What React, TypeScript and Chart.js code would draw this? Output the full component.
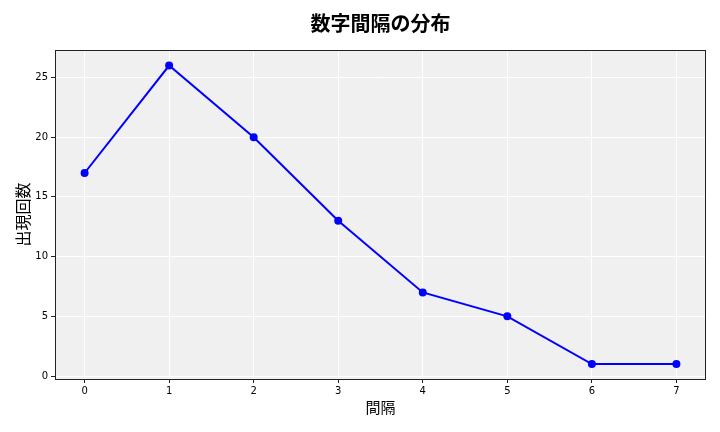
import React, {useEffect, useRef} from "react";
import {Chart, registerables} from "chart.js";

Chart.register(...registerables);

const intervals: number[] = [0, 1, 2, 3, 4, 5, 6, 7];
const counts: number[] = [17, 26, 20, 13, 7, 5, 1, 1];
const xTicks: number[] = [0, 1, 2, 3, 4, 5, 6, 7];
const yTicks: number[] = [0, 5, 10, 15, 20, 25];
const chartTitle = "数字間隔の分布";

const CJK = '"Noto Sans CJK JP", "Noto Sans", sans-serif';
const TICK_FONT = '"DejaVu Sans", sans-serif';

// axes background, frame and a title centred over the axes (like matplotlib)
const plotFrame = {
    id: "plotFrame",
    beforeDraw(chart: Chart) {
        const {ctx, chartArea} = chart;
        ctx.save();
        ctx.fillStyle = "#f0f0f0";
        ctx.fillRect(chartArea.left, chartArea.top, chartArea.right - chartArea.left, chartArea.bottom - chartArea.top);
        ctx.restore();
    },
    afterDraw(chart: Chart) {
        const {ctx, chartArea} = chart;
        ctx.save();
        ctx.strokeStyle = "#222";
        ctx.lineWidth = 1;
        ctx.strokeRect(chartArea.left + 0.5, chartArea.top + 0.5, chartArea.right - chartArea.left - 1, chartArea.bottom - chartArea.top);

        ctx.fillStyle = "#000";
        ctx.font = `bold 20px ${CJK}`;
        ctx.textAlign = "center";
        ctx.textBaseline = "middle";
        ctx.fillText(chartTitle, (chartArea.left + chartArea.right) / 2, 23);
        ctx.restore();
    },
};

const App: React.FC = () => {
    const canvasRef = useRef<HTMLCanvasElement>(null);

    useEffect(() => {
        if (!canvasRef.current) return;
        const ctx = canvasRef.current.getContext("2d");
        if (!ctx) return;

        const chart = new Chart(ctx, {
            type: "line",
            data: {
                datasets: [
                    {
                        label: "出現回数",
                        data: intervals.map((x, i) => ({x, y: counts[i]})),
                        borderColor: "#0000ff",
                        backgroundColor: "#0000ff",
                        borderWidth: 2,
                        pointRadius: 3,
                        pointHoverRadius: 3,
                        tension: 0,
                        clip: false,
                    },
                ],
            },
            options: {
                animation: false,
                responsive: false,
                layout: {padding: {top: 50, right: 14, bottom: 0, left: 0}},
                plugins: {
                    legend: {display: false},
                    tooltip: {enabled: false},
                    title: {display: false},
                },
                scales: {
                    x: {
                        type: "linear",
                        min: -0.35,
                        max: 7.35,
                        afterBuildTicks: (axis: any) => {
                            axis.ticks = xTicks.map(v => ({value: v}));
                        },
                        afterFit: (axis: any) => {
                            axis.height = 53;
                        },
                        grid: {color: "#ffffff", lineWidth: 1, tickColor: "#222", tickLength: 4, drawTicks: true},
                        border: {display: false},
                        ticks: {
                            color: "#000",
                            font: {family: TICK_FONT, size: 10},
                            padding: 2,
                            maxRotation: 0,
                        },
                        title: {
                            display: true,
                            text: "間隔",
                            color: "#000",
                            font: {family: CJK, size: 15, lineHeight: 1.2},
                            padding: {top: 0, bottom: 16},
                        },
                    },
                    y: {
                        type: "linear",
                        min: -0.25,
                        max: 27.3,
                        afterBuildTicks: (axis: any) => {
                            axis.ticks = yTicks.map(v => ({value: v}));
                        },
                        afterFit: (axis: any) => {
                            axis.width = 55;
                        },
                        grid: {color: "#ffffff", lineWidth: 1, tickColor: "#222", tickLength: 4, drawTicks: true},
                        border: {display: false},
                        ticks: {
                            color: "#000",
                            font: {family: TICK_FONT, size: 10},
                            padding: 3,
                        },
                        title: {
                            display: true,
                            text: "出現回数",
                            color: "#000",
                            font: {family: CJK, size: 16, lineHeight: 1.2},
                            padding: {top: 13, bottom: 0},
                        },
                    },
                },
            },
            plugins: [plotFrame],
        });

        return () => {
            chart.destroy();
        };
    }, []);

    return (
        <div style={{position: "absolute", left: 0, top: 0, width: 720, height: 432}}>
            <canvas ref={canvasRef} width={720} height={432}></canvas>
        </div>
    );
};

export default App;
